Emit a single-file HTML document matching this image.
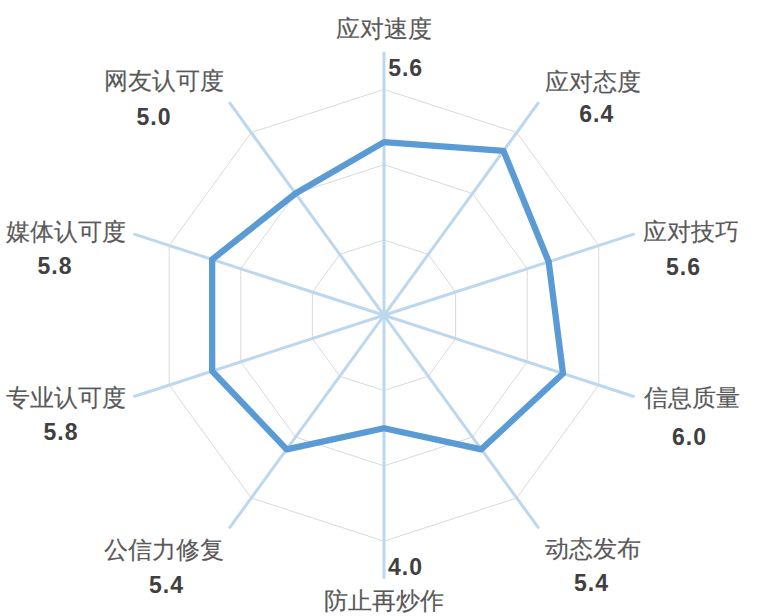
<!DOCTYPE html>
<html><head><meta charset="utf-8"><style>
html,body{margin:0;padding:0;background:#fff;}
body{width:758px;height:616px;position:relative;overflow:hidden;}
svg{position:absolute;left:0;top:0;}
.n,.v{position:absolute;white-space:nowrap;line-height:1;font-family:"Liberation Sans",sans-serif;}
.n{font-size:24.0px;color:#595959;-webkit-text-stroke:0.15px #595959;}
.v{font-size:23.0px;color:#404040;font-weight:bold;letter-spacing:1px;}
</style></head><body>
<svg width="758" height="616" viewBox="0 0 758 616"><polygon points="384.00,240.01 428.25,254.39 455.60,292.04 455.60,338.56 428.25,376.21 384.00,390.59 339.75,376.21 312.40,338.56 312.40,292.04 339.75,254.39" fill="none" stroke="#D9D9D9" stroke-width="1"/>
<polygon points="384.00,164.73 472.50,193.49 527.20,268.77 527.20,361.83 472.50,437.11 384.00,465.87 295.50,437.11 240.80,361.83 240.80,268.77 295.50,193.49" fill="none" stroke="#D9D9D9" stroke-width="1"/>
<polygon points="384.00,89.44 516.76,132.58 598.80,245.51 598.80,385.09 516.76,498.02 384.00,541.16 251.24,498.02 169.20,385.09 169.20,245.51 251.24,132.58" fill="none" stroke="#D9D9D9" stroke-width="1"/>
<line x1="384.00" y1="315.30" x2="384.00" y2="51.80" stroke="#BDD7EE" stroke-width="3"/>
<line x1="384.00" y1="315.30" x2="538.88" y2="102.12" stroke="#BDD7EE" stroke-width="3"/>
<line x1="384.00" y1="315.30" x2="634.60" y2="233.87" stroke="#BDD7EE" stroke-width="3"/>
<line x1="384.00" y1="315.30" x2="634.60" y2="396.73" stroke="#BDD7EE" stroke-width="3"/>
<line x1="384.00" y1="315.30" x2="538.88" y2="528.48" stroke="#BDD7EE" stroke-width="3"/>
<line x1="384.00" y1="315.30" x2="384.00" y2="578.80" stroke="#BDD7EE" stroke-width="3"/>
<line x1="384.00" y1="315.30" x2="229.12" y2="528.48" stroke="#BDD7EE" stroke-width="3"/>
<line x1="384.00" y1="315.30" x2="133.40" y2="396.73" stroke="#BDD7EE" stroke-width="3"/>
<line x1="384.00" y1="315.30" x2="133.40" y2="233.87" stroke="#BDD7EE" stroke-width="3"/>
<line x1="384.00" y1="315.30" x2="229.12" y2="102.12" stroke="#BDD7EE" stroke-width="3"/>
<polygon points="384.00,142.14 503.48,150.85 548.68,261.79 563.00,373.46 481.35,449.30 384.00,428.23 286.65,449.30 212.16,371.13 212.16,259.47 295.50,193.49" fill="none" stroke="#5B9BD5" stroke-width="6.3" stroke-linejoin="round"/></svg>
<div class="n" style="left:336.30px;top:16.95px">应对速度</div>
<div class="v" style="left:388.20px;top:57.10px">5.6</div>
<div class="n" style="left:544.50px;top:69.50px">应对态度</div>
<div class="v" style="left:579.30px;top:103.45px">6.4</div>
<div class="n" style="left:643.00px;top:219.50px">应对技巧</div>
<div class="v" style="left:666.00px;top:256.25px">5.6</div>
<div class="n" style="left:644.00px;top:386.00px">信息质量</div>
<div class="v" style="left:672.00px;top:425.50px">6.0</div>
<div class="n" style="left:544.50px;top:537.15px">动态发布</div>
<div class="v" style="left:574.00px;top:572.45px">5.4</div>
<div class="n" style="left:324.30px;top:588.50px">防止再炒作</div>
<div class="v" style="left:388.05px;top:555.80px">4.0</div>
<div class="n" style="left:104.40px;top:537.50px">公信力修复</div>
<div class="v" style="left:149.00px;top:574.00px">5.4</div>
<div class="n" style="left:6.10px;top:386.00px">专业认可度</div>
<div class="v" style="left:43.50px;top:421.40px">5.8</div>
<div class="n" style="left:6.35px;top:220.00px">媒体认可度</div>
<div class="v" style="left:37.50px;top:254.75px">5.8</div>
<div class="n" style="left:103.90px;top:69.40px">网友认可度</div>
<div class="v" style="left:136.50px;top:105.50px">5.0</div>
</body></html>
